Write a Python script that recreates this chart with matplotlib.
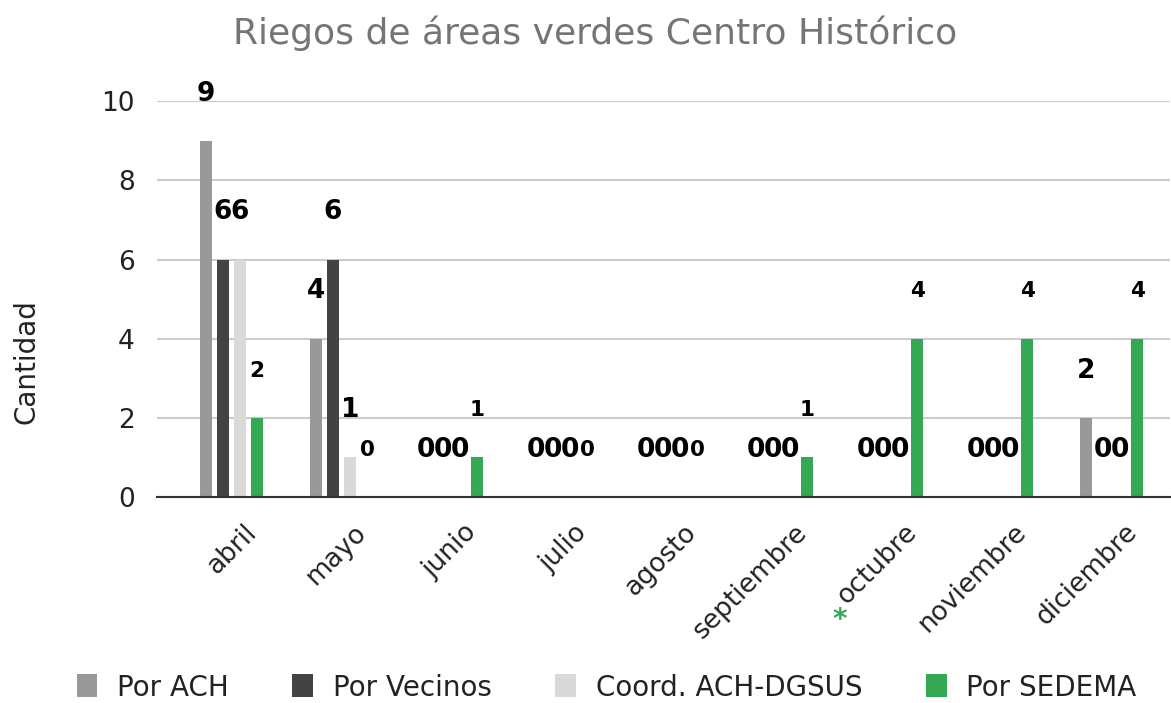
import matplotlib.pyplot as plt
from matplotlib.transforms import ScaledTranslation
import numpy as np

plt.rcParams['font.family'] = ['DejaVu Sans']

meses = ["abril", "mayo", "junio", "julio", "agosto", "septiembre",
         "octubre", "noviembre", "diciembre"]
por_ach = [9, 4, 0, 0, 0, 0, 0, 0, 2]
por_vecinos = [6, 6, 0, 0, 0, 0, 0, 0, 0]
coord_ach_dgsus = [6, 1, 0, 0, 0, 0, 0, 0, 0]
por_sedema = [2, 0, 1, 0, 0, 1, 4, 4, 4]

series = [
    ("Por ACH", por_ach, "#999999", 19),
    ("Por Vecinos", por_vecinos, "#434343", 19),
    ("Coord. ACH-DGSUS", coord_ach_dgsus, "#d9d9d9", 19),
    ("Por SEDEMA", por_sedema, "#34a853", 15.5),
]

fig = plt.figure(figsize=(11.71, 7.03), dpi=100)
ax = fig.add_axes([0.134, 0.293, 0.865, 0.563])

x = np.arange(len(meses))
step = 0.1545
width = 0.11

for i, (name, vals, color, fs) in enumerate(series):
    pos = x + (i - 1.5) * step
    bars = ax.bar(pos, vals, width, color=color, label=name, zorder=3)
    for b, v in zip(bars, vals):
        ax.annotate(str(v), (b.get_x() + b.get_width() / 2, v),
                    xytext=(0, 34), textcoords="offset points",
                    ha="center", va="center", fontsize=fs,
                    fontweight="bold", color="black", zorder=4)

ax.set_xlim(-0.677, 8.527)
ax.set_ylim(0, 10)
ax.set_yticks([0, 2, 4, 6, 8, 10])
ax.tick_params(axis="y", labelsize=19, length=0, pad=16, colors="#222222")
ax.tick_params(axis="x", length=0, pad=16)
ax.set_xticks(x)
ax.set_xticklabels(meses, rotation=45, ha="right", rotation_mode="anchor",
                   fontsize=19, color="#222222")
shift = ScaledTranslation(0.12, 0, fig.dpi_scale_trans)
for lbl in ax.get_xticklabels():
    lbl.set_transform(lbl.get_transform() + shift)

ax.grid(axis="y", color="#cccccc", linewidth=1.5, zorder=0)
for s in ["top", "right", "left"]:
    ax.spines[s].set_visible(False)
ax.spines["bottom"].set_color("#333333")
ax.spines["bottom"].set_linewidth(1.5)
ax.spines["bottom"].set_zorder(5)

fig.text(0.023, 0.485, "Cantidad", rotation=90, ha="center", va="center",
         fontsize=20, color="#222222")

fig.text(0.508, 0.953, "Riegos de áreas verdes Centro Histórico",
         ha="center", va="center", fontsize=26, color="#757575")

fig.text(0.717, 0.118, "*", ha="center", va="center", fontsize=20,
         color="#34a853", fontweight="bold")

fig.legend(loc="center", bbox_to_anchor=(0.518, 0.022), ncol=4,
           frameon=False, fontsize=20, handlelength=0.75, handleheight=0.9,
           columnspacing=2.3, handletextpad=0.7, labelcolor="#222222")

fig.savefig("out.png", dpi=100)
